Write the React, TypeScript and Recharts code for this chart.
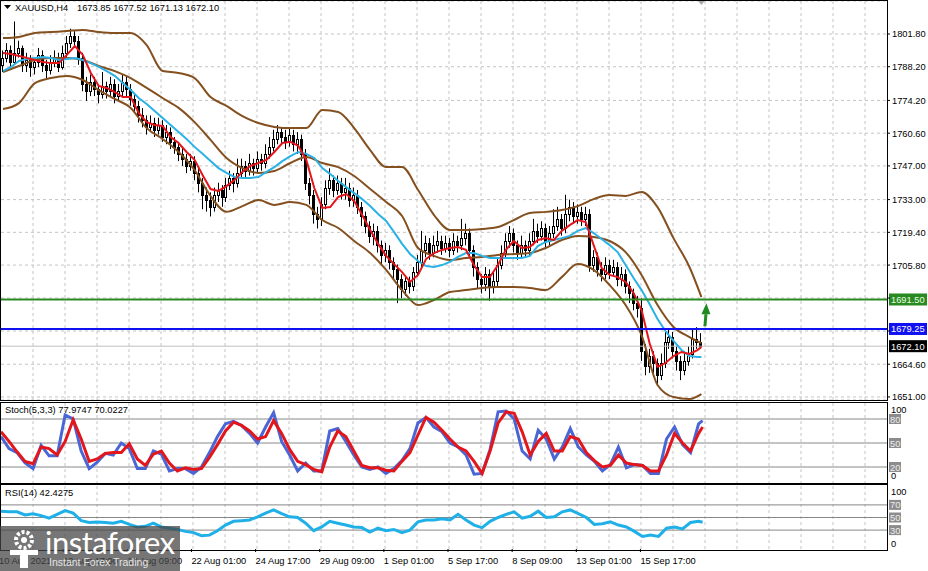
import React from "react";
import {
  Bar,
  CartesianGrid,
  ComposedChart,
  Line,
  ReferenceDot,
  ReferenceLine,
  XAxis,
  YAxis,
} from "recharts";

/* ---------- candles (H4), open = previous close ---------- */
const FIRST_OPEN = 1789;

const CLOSE = [
  1792, 1795, 1790, 1794, 1796, 1789, 1791, 1788, 1790, 1793,
  1789, 1787, 1790, 1792, 1788, 1794, 1798, 1801, 1799, 1792,
  1781, 1778, 1782, 1779, 1777, 1780, 1778, 1781, 1776, 1778,
  1782, 1779, 1775, 1772, 1768, 1766, 1763, 1765, 1762, 1764,
  1759, 1761, 1757, 1755, 1752, 1750, 1747, 1749, 1744, 1740,
  1735, 1733, 1730, 1735, 1737, 1734, 1739, 1742, 1740, 1744,
  1747, 1745, 1748, 1746, 1750, 1748, 1752, 1755, 1758, 1761,
  1759, 1757, 1760, 1756, 1758, 1752, 1740, 1735, 1727, 1725,
  1731, 1738, 1741, 1737, 1740, 1736, 1738, 1733, 1735, 1730,
  1726, 1722, 1718, 1720, 1714, 1710, 1712, 1707, 1704, 1700,
  1696, 1699, 1697, 1703, 1707, 1712, 1715, 1711, 1714, 1716,
  1713, 1715, 1712, 1716, 1714, 1717, 1719, 1712, 1705, 1700,
  1698, 1702, 1697, 1699, 1706, 1711, 1716, 1719, 1714, 1711,
  1714, 1712, 1716, 1720, 1718, 1721, 1716, 1719, 1722, 1725,
  1721, 1727, 1730, 1726, 1728, 1725, 1727, 1706, 1709, 1704,
  1702, 1706, 1703, 1705, 1700, 1702, 1697, 1694, 1690, 1688,
  1670, 1664, 1668, 1665, 1660, 1665, 1674, 1676, 1670, 1666,
  1662, 1666, 1669, 1675, 1673.85, 1672.1,
];

const HIGH = [
  1795, 1798, 1797, 1807, 1799, 1797, 1794, 1793, 1792, 1796,
  1795, 1791, 1793, 1795, 1794, 1797, 1801, 1804, 1803, 1801,
  1794, 1784, 1785, 1784, 1781, 1786, 1782, 1784, 1783, 1781,
  1785, 1784, 1781, 1777, 1774, 1771, 1768, 1768, 1767, 1767,
  1766, 1764, 1763, 1759, 1757, 1755, 1752, 1752, 1751, 1746,
  1742, 1738, 1736, 1738, 1740, 1739, 1742, 1745, 1744, 1750,
  1750, 1749, 1752, 1750, 1753, 1752, 1756, 1759, 1762, 1764,
  1763, 1762, 1763, 1762, 1761, 1760, 1754, 1742, 1737, 1730,
  1734, 1741, 1746, 1743, 1743, 1742, 1742, 1740, 1738, 1737,
  1732, 1728, 1724, 1723, 1722, 1716, 1715, 1714, 1709, 1706,
  1702, 1701, 1701, 1705, 1710, 1720, 1718, 1717, 1718, 1720,
  1718, 1718, 1717, 1719, 1718, 1725, 1723, 1721, 1714, 1707,
  1702, 1705, 1704, 1703, 1709, 1714, 1719, 1722, 1721, 1716,
  1718, 1716, 1719, 1725, 1723, 1724, 1723, 1722, 1729, 1730,
  1727, 1735, 1733, 1732, 1731, 1730, 1730, 1729, 1712, 1711,
  1707, 1709, 1708, 1708, 1707, 1705, 1704, 1699, 1696, 1693,
  1692, 1673, 1671, 1670, 1667, 1669, 1679, 1679, 1678, 1672,
  1668, 1670, 1672, 1679, 1680, 1677.52,
];

const LOW = [
  1786, 1790, 1787, 1789, 1792, 1786, 1786, 1784, 1785, 1788,
  1786, 1783, 1785, 1788, 1786, 1787, 1792, 1796, 1796, 1789,
  1778, 1774, 1776, 1776, 1773, 1775, 1775, 1776, 1773, 1774,
  1776, 1776, 1772, 1769, 1765, 1763, 1760, 1761, 1759, 1760,
  1757, 1756, 1754, 1752, 1749, 1747, 1744, 1745, 1741, 1736,
  1729, 1728, 1726, 1728, 1732, 1730, 1732, 1737, 1736, 1738,
  1742, 1742, 1743, 1743, 1744, 1745, 1746, 1750, 1753, 1756,
  1756, 1754, 1755, 1753, 1752, 1749, 1737, 1731, 1723, 1721,
  1722, 1729, 1735, 1734, 1735, 1733, 1733, 1730, 1730, 1727,
  1722, 1719, 1715, 1714, 1711, 1706, 1707, 1704, 1700, 1690,
  1692, 1693, 1694, 1695, 1701, 1705, 1709, 1708, 1709, 1711,
  1710, 1711, 1709, 1710, 1711, 1712, 1714, 1709, 1701, 1696,
  1694, 1695, 1691, 1694, 1697, 1704, 1709, 1713, 1711, 1708,
  1709, 1709, 1710, 1714, 1715, 1716, 1713, 1714, 1717, 1720,
  1718, 1719, 1724, 1723, 1723, 1722, 1722, 1703, 1703, 1701,
  1699, 1700, 1700, 1701, 1697, 1697, 1694, 1690, 1687, 1684,
  1666, 1660, 1661, 1661, 1656, 1658, 1663, 1671, 1667, 1662,
  1658, 1660, 1664, 1667, 1671, 1671.13,
];

/* ---------- price overlays, read every 2 bars (last = last bar) ---------- */
const RED_MA = [
  1793.9, 1793.5, 1792.7, 1791.8, 1791.0, 1790.2, 1789.7, 1789.7, 1793.1, 1796.8,
  1793.1, 1785.6, 1780.2, 1779.4, 1777.7, 1775.6, 1775.6, 1769.0, 1765.2, 1764.0,
  1763.6, 1759.0, 1756.5, 1752.8, 1749.5, 1743.2, 1737.4, 1736.6, 1738.6, 1741.1,
  1744.5, 1747.0, 1748.2, 1749.5, 1752.8, 1756.5, 1757.0, 1755.3, 1749.5, 1737.8,
  1729.5, 1729.9, 1734.1, 1735.3, 1732.4, 1726.6, 1720.4, 1714.6, 1709.6, 1706.2,
  1702.9, 1698.8, 1701.7, 1708.3, 1710.8, 1712.1, 1712.9, 1713.3, 1712.1, 1705.8,
  1700.8, 1700.8, 1705.8, 1712.1, 1715.8, 1712.9, 1713.3, 1716.2, 1717.0, 1716.2,
  1720.0, 1722.4, 1724.5, 1723.7, 1714.1, 1704.6, 1701.7, 1700.8, 1698.8, 1694.2,
  1687.1, 1673.4, 1663.5, 1665.1, 1668.0, 1669.7, 1668.9, 1670.5, 1671.8,
];

const CYAN_MA = [
  1786.4, 1788.1, 1790.6, 1791.4, 1791.8, 1792.2, 1791.8, 1791.0, 1791.4, 1791.8,
  1791.0, 1789.7, 1788.1, 1786.4, 1784.4, 1781.4, 1778.5, 1775.2, 1772.7, 1769.8,
  1766.9, 1764.0, 1761.1, 1758.2, 1754.9, 1752.0, 1749.0, 1746.1, 1744.1, 1742.4,
  1742.0, 1742.0, 1742.4, 1744.5, 1746.5, 1749.0, 1751.1, 1752.8, 1752.0, 1750.3,
  1746.1, 1743.6, 1740.7, 1738.2, 1735.7, 1733.2, 1730.3, 1727.0, 1724.1, 1719.5,
  1714.6, 1710.4, 1707.5, 1705.4, 1705.0, 1705.8, 1707.1, 1709.2, 1710.8, 1710.8,
  1709.6, 1708.7, 1708.7, 1708.7, 1708.7, 1708.7, 1709.6, 1713.7, 1715.4, 1716.2,
  1717.0, 1717.9, 1720.0, 1721.2, 1719.1, 1716.6, 1714.1, 1711.2, 1705.8, 1700.4,
  1695.4, 1689.6, 1683.4, 1678.4, 1674.3, 1670.5, 1668.0, 1667.6, 1667.6,
];

/* ---------- bollinger bands, read every 4 bars (last = last bar) ---------- */
const BB_UPPER = [
  1800.1, 1800.6, 1802.2, 1802.6, 1803.0, 1803.5, 1802.6, 1802.2, 1802.2, 1797.2,
  1786.4, 1785.6, 1783.5, 1775.6, 1771.9, 1767.7, 1764.8, 1763.2, 1762.7, 1762.7,
  1770.2, 1769.4, 1762.7, 1753.6, 1746.5, 1746.5, 1737.0, 1726.6, 1720.4, 1720.4,
  1720.8, 1721.6, 1724.5, 1727.4, 1727.9, 1728.7, 1730.3, 1733.2, 1734.9, 1734.5,
  1736.2, 1729.9, 1717.0, 1705.0, 1692.5,
];

const BB_MID = [
  1786.0, 1788.5, 1791.0, 1791.8, 1791.8, 1791.0, 1788.5, 1786.4, 1783.5, 1779.4,
  1775.2, 1771.1, 1765.2, 1757.8, 1750.3, 1746.1, 1744.1, 1744.9, 1748.2, 1750.7,
  1748.2, 1746.5, 1742.8, 1737.4, 1732.0, 1726.2, 1712.9, 1709.6, 1707.9, 1708.7,
  1709.2, 1710.0, 1710.4, 1710.8, 1712.9, 1716.2, 1717.9, 1717.5, 1715.8, 1711.2,
  1701.7, 1689.2, 1680.1, 1675.9, 1673.4,
];

const BB_LOWER = [
  1770.6, 1773.1, 1781.4, 1783.5, 1784.4, 1782.7, 1778.5, 1774.8, 1771.1, 1762.7,
  1758.2, 1752.8, 1745.3, 1734.5, 1727.9, 1730.3, 1732.8, 1730.8, 1732.0, 1730.8,
  1724.5, 1721.2, 1715.8, 1710.8, 1703.8, 1695.4, 1689.2, 1691.3, 1694.6, 1695.4,
  1696.3, 1696.7, 1696.7, 1696.3, 1695.4, 1700.8, 1706.2, 1703.8, 1697.5, 1689.2,
  1676.7, 1656.0, 1651.0, 1650.2, 1652.2,
];

/* ---------- oscillators, read every 2 bars ---------- */
const STOCH_K = [
  58, 43, 38, 25, 18, 47, 34, 34, 85, 80,
  40, 18, 26, 37, 35, 50, 43, 18, 18, 40,
  36, 15, 18, 18, 12, 20, 38, 58, 74, 77,
  72, 62, 50, 70, 88, 52, 35, 15, 25, 15,
  15, 65, 68, 52, 35, 20, 17, 20, 12, 18,
  28, 43, 75, 82, 70, 64, 50, 45, 35, 11,
  12, 42, 89, 90, 80, 40, 30, 66, 55, 30,
  45, 68, 45, 35, 27, 15, 23, 45, 19, 23,
  22, 12, 12, 55, 70, 48, 38, 74, 77.97,
];

const STOCH_D = [
  64, 52, 39, 27, 24, 45, 43, 35, 52, 79,
  55, 27, 30, 37, 38, 38, 49, 30, 22, 36,
  40, 25, 15, 19, 17, 18, 32, 48, 65, 76,
  72, 65, 55, 58, 78, 62, 42, 27, 23, 17,
  14, 45, 65, 58, 40, 22, 19, 19, 16, 15,
  27, 38, 60, 82, 76, 66, 55, 45, 40, 27,
  12, 40, 75, 89, 87, 64, 35, 52, 62, 40,
  40, 58, 55, 38, 28, 20, 22, 35, 25, 23,
  22, 15, 15, 35, 62, 50, 40, 62, 70.02,
];

const RSI = [
  60, 59, 59, 54, 56, 53, 49, 55, 61, 57,
  45, 42, 43, 42, 41, 44, 39, 35, 36, 41,
  35, 33, 31, 28, 26, 21, 22, 29, 38, 44,
  45, 46, 51, 57, 62, 56, 51, 50, 41, 29,
  35, 44, 41, 38, 35, 34, 27, 33, 29, 31,
  26, 30, 43, 46, 46, 48, 46, 55, 46, 38,
  34, 44, 50, 55, 59, 49, 52, 60, 50, 51,
  59, 62, 56, 50, 39, 40, 43, 38, 35, 28,
  20, 22, 20, 33, 35, 32, 42, 44, 42.43,
];

const TIME_LABELS = [
  "10 Aug 2021", "12 Aug 17:00", "17 Aug 09:00", "22 Aug 01:00", "24 Aug 17:00",
  "29 Aug 09:00", "1 Sep 01:00", "5 Sep 17:00", "8 Sep 09:00", "13 Sep 01:00", "15 Sep 17:00",
];
const BARS_PER_LABEL = 16;

const PRICE_TICKS = [1651.0, 1664.6, 1678.4, 1692.1, 1705.8, 1719.4, 1733.0, 1747.0, 1760.6, 1774.2, 1788.2, 1801.8];
const PRICE_DOMAIN = [1649.74, 1815.51];
const RESISTANCE = 1691.5;
const SUPPORT = 1679.25;
const BID = 1672.1;
const STOCH_LEVELS = [20, 50, 80];
const RSI_LEVELS = [30, 50, 70];

/* ---------- layout ---------- */
const SLOTS = 222; // bars + empty space on the right
const PLOT_RIGHT = 887;
const VGRID = Array.from({ length: 27 }, (_, k) => 33 + 32 * k);
const FONT = '"Liberation Sans", Arial, sans-serif';
const FS = 9.3;

const BAR_COUNT = CLOSE.length;

function pick(arr: number[], step: number, i: number) {
  if (i === BAR_COUNT - 1) return arr[arr.length - 1];
  if (i % step !== 0) return null;
  const k = i / step;
  return k < arr.length - 1 ? arr[k] : null;
}

const rows = Array.from({ length: SLOTS }, (_, i) => {
  if (i >= BAR_COUNT) return { i };
  return {
    i,
    open: i === 0 ? FIRST_OPEN : CLOSE[i - 1],
    close: CLOSE[i],
    high: HIGH[i],
    low: LOW[i],
    range: [LOW[i], HIGH[i]],
    red: pick(RED_MA, 2, i),
    cyan: pick(CYAN_MA, 2, i),
    up: pick(BB_UPPER, 4, i),
    mid: pick(BB_MID, 4, i),
    lo: pick(BB_LOWER, 4, i),
    k: pick(STOCH_K, 2, i),
    d: pick(STOCH_D, 2, i),
    rsi: pick(RSI, 2, i),
  };
});

function Candle(props: any) {
  const { x, y, width, height, payload } = props;
  if (!payload || payload.high == null || !isFinite(y)) return null;
  const top = Math.min(y, y + height);
  const span = Math.abs(height);
  const { open, close, high, low } = payload;
  const toY = (v: number) => top + ((high - v) / (high - low)) * span;
  const cx = Math.floor(x + width / 2) + 0.5;
  const bTop = Math.round(toY(Math.max(open, close))) + 0.5;
  const bBot = Math.round(toY(Math.min(open, close))) + 0.5;
  const bull = close >= open;
  return (
    <g>
      <line x1={cx} x2={cx} y1={top} y2={top + span} stroke="#000" strokeWidth={1} />
      {bBot - bTop < 1 ? (
        <line x1={cx - 1.5} x2={cx + 1.5} y1={bTop} y2={bTop} stroke="#000" />
      ) : (
        <rect x={cx - 1} y={bTop} width={2} height={bBot - bTop} fill={bull ? "#fff" : "#000"} stroke="#000" strokeWidth={1} />
      )}
    </g>
  );
}

const marked = [RESISTANCE, SUPPORT, BID];

function PriceTick(props: any) {
  const { y, payload } = props;
  const v = payload.value;
  const hidden = marked.some((m) => Math.abs(m - v) < 3);
  return (
    <g>
      <line x1={PLOT_RIGHT} x2={PLOT_RIGHT + 3} y1={y} y2={y} stroke="#000" />
      {!hidden && (
        <text x={PLOT_RIGHT + 5} y={y + 3.5} fontSize={FS} fontFamily={FONT} fill="#000">
          {v.toFixed(2)}
        </text>
      )}
    </g>
  );
}

const priceTag = (value: number, bg: string, fg: string) => (props: any) => {
  const vb = props.viewBox;
  const x = vb.x + vb.width + 2;
  const y = vb.y;
  return (
    <g>
      <rect x={x} y={y - 6} width={38} height={12} fill={bg} />
      <text x={x + 2} y={y + 3.5} fontSize={FS} fontFamily={FONT} fill={fg}>
        {value.toFixed(2)}
      </text>
    </g>
  );
};

const levelTick = (levels: number[], topShift: number, bottomShift: number) => (props: any) => {
  const { y, payload } = props;
  const v = payload.value;
  if (levels.includes(v)) {
    return (
      <g>
        <rect x={PLOT_RIGHT + 2} y={y - 5} width={12} height={10} fill="#8c8c8c" />
        <text x={PLOT_RIGHT + 3} y={y + 3.5} fontSize={FS} fontFamily={FONT} fill="#eeeeee">
          {v}
        </text>
      </g>
    );
  }
  const dy = v === 100 ? topShift : bottomShift;
  return (
    <text x={PLOT_RIGHT + 4} y={y + dy + 3.5} fontSize={FS} fontFamily={FONT} fill="#000">
      {v}
    </text>
  );
};

function TimeTick(props: any) {
  const { x, payload } = props;
  const label = TIME_LABELS[payload.value / BARS_PER_LABEL];
  return (
    <g>
      <line x1={x - 2} x2={x - 2} y1={65} y2={68} stroke="#000" />
      <text x={x - 2} y={80} fontSize={FS} fontFamily={FONT} fill="#000">
        {label}
      </text>
    </g>
  );
}

function UpArrow(props: any) {
  const { cx, cy } = props;
  return (
    <g fill="#1f8a1f">
      <polygon points={`${cx + 1},${cy - 12} ${cx - 4},${cy - 1} ${cx + 5},${cy - 1}`} />
      <polygon points={`${cx - 1},${cy - 1} ${cx + 2},${cy - 1} ${cx + 1},${cy + 11} ${cx - 2},${cy + 11}`} />
    </g>
  );
}

function ShiftMark(props: any) {
  const { cx } = props;
  return <polygon points={`${cx - 4},0 ${cx + 4},0 ${cx},5`} fill="#a8a8a8" />;
}

const border = (top: number, height: number): React.CSSProperties => ({
  position: "absolute",
  left: 0,
  top,
  width: PLOT_RIGHT + 1,
  height,
  border: "1px solid #000",
  boxSizing: "border-box",
  pointerEvents: "none",
});

const label = (left: number, top: number): React.CSSProperties => ({
  position: "absolute",
  left,
  top,
  fontSize: FS,
  lineHeight: "11px",
  color: "#000",
  whiteSpace: "nowrap",
});

export default function App() {
  return (
    <div
      style={{
        position: "fixed",
        left: 0,
        top: 0,
        width: 928,
        height: 571,
        background: "#fff",
        overflow: "hidden",
        fontFamily: FONT,
      }}
    >
      {/* PRICE */}
      <div style={{ position: "absolute", left: 0, top: 0 }}>
        <ComposedChart width={928} height={401} data={rows} margin={{ top: 1, right: 0, bottom: 1, left: 1 }}>
          <CartesianGrid stroke="#c4c4c4" strokeDasharray="3 3" verticalPoints={VGRID} />
          <XAxis dataKey="i" hide />
          <YAxis
            orientation="right"
            width={41}
            domain={PRICE_DOMAIN}
            ticks={PRICE_TICKS}
            interval={0}
            allowDataOverflow
            axisLine={false}
            tickLine={false}
            tick={<PriceTick />}
          />
          <ReferenceLine y={BID} stroke="#c0c0c0" strokeWidth={1} label={priceTag(BID, "#000", "#fff")} />
          <Bar dataKey="range" barSize={3} shape={(p: any) => <Candle {...p} />} isAnimationActive={false} />
          <Line dataKey="up" type="monotone" stroke="#85501f" strokeWidth={2} dot={false} connectNulls isAnimationActive={false} />
          <Line dataKey="mid" type="monotone" stroke="#85501f" strokeWidth={2} dot={false} connectNulls isAnimationActive={false} />
          <Line dataKey="lo" type="monotone" stroke="#85501f" strokeWidth={2} dot={false} connectNulls isAnimationActive={false} />
          <Line dataKey="cyan" type="linear" stroke="#2ab2e6" strokeWidth={2} dot={false} connectNulls isAnimationActive={false} />
          <Line dataKey="red" type="linear" stroke="#e3161c" strokeWidth={2} dot={false} connectNulls isAnimationActive={false} />
          <ReferenceLine y={RESISTANCE} stroke="#2a8a22" strokeWidth={2} label={priceTag(RESISTANCE, "#2a8a22", "#e8ffe0")} />
          <ReferenceLine y={SUPPORT} stroke="#1010f0" strokeWidth={2} label={priceTag(SUPPORT, "#1010f0", "#ffffff")} />
          <ReferenceDot x={176} y={1685} ifOverflow="visible" shape={(p: any) => <UpArrow {...p} />} />
          <ReferenceDot x={175} y={PRICE_DOMAIN[1]} ifOverflow="visible" shape={(p: any) => <ShiftMark {...p} />} />
        </ComposedChart>
      </div>
      <div style={border(0, 401)} />
      <svg width={8} height={6} style={{ position: "absolute", left: 4, top: 5 }}>
        <polygon points="0,0 7,0 3.5,4" fill="#000" />
      </svg>
      <div style={label(15, 3)}>XAUUSD,H4</div>
      <div style={label(77, 3)}>1673.85 1677.52 1671.13 1672.10</div>

      {/* STOCHASTIC */}
      <div style={{ position: "absolute", left: 0, top: 402 }}>
        <ComposedChart width={928} height={82} data={rows} margin={{ top: 1, right: 0, bottom: 1, left: 1 }}>
          <CartesianGrid stroke="#c4c4c4" strokeDasharray="3 3" horizontal={false} verticalPoints={VGRID} />
          <XAxis dataKey="i" hide />
          <YAxis
            orientation="right"
            width={41}
            domain={[0, 100]}
            ticks={[0, 20, 50, 80, 100]}
            interval={0}
            axisLine={false}
            tickLine={false}
            tick={levelTick(STOCH_LEVELS, 6, -8)}
          />
          {STOCH_LEVELS.map((v) => (
            <ReferenceLine key={v} y={v} stroke="#888" strokeWidth={1} />
          ))}
          <Line dataKey="k" type="linear" stroke="#4a66d4" strokeWidth={3} dot={false} connectNulls isAnimationActive={false} />
          <Line dataKey="d" type="linear" stroke="#e3161c" strokeWidth={3} dot={false} connectNulls isAnimationActive={false} />
        </ComposedChart>
      </div>
      <div style={border(402, 82)} />
      <div style={label(5, 405)}>Stoch(5,3,3) 77.9747 70.0227</div>

      {/* RSI */}
      <div style={{ position: "absolute", left: 0, top: 484 }}>
        <ComposedChart width={928} height={87} data={rows} margin={{ top: 2, right: 0, bottom: 0, left: 1 }}>
          <CartesianGrid stroke="#c4c4c4" strokeDasharray="3 3" horizontal={false} verticalPoints={VGRID} />
          <XAxis
            dataKey="i"
            height={22}
            ticks={TIME_LABELS.map((_, k) => k * BARS_PER_LABEL)}
            interval={0}
            axisLine={false}
            tickLine={false}
            tick={<TimeTick />}
          />
          <YAxis
            orientation="right"
            width={41}
            domain={[0, 100]}
            ticks={[0, 30, 50, 70, 100]}
            interval={0}
            axisLine={false}
            tickLine={false}
            tick={levelTick(RSI_LEVELS, 5.5, -6)}
          />
          {RSI_LEVELS.map((v) => (
            <ReferenceLine key={v} y={v} stroke="#888" strokeWidth={1} />
          ))}
          <Line dataKey="rsi" type="linear" stroke="#1fb0e8" strokeWidth={3} dot={false} connectNulls isAnimationActive={false} />
        </ComposedChart>
      </div>
      <div style={border(484, 67)} />
      <div style={label(5, 488)}>RSI(14) 42.4275</div>

      {/* WATERMARK */}
      <div
        style={{
          position: "absolute",
          left: 0,
          top: 526,
          width: 180,
          height: 45,
          background: "rgba(70,70,70,0.74)",
        }}
      >
        <svg width={38} height={42} style={{ position: "absolute", left: 5, top: 2 }}>
          <circle cx={19} cy={12} r={8} fill="none" stroke="#fff" strokeWidth={4} strokeDasharray="3 2" />
          <circle cx={19} cy={12} r={3} fill="#fff" />
          <rect x={5} y={22} width={28} height={5} fill="#fff" />
          <rect x={15} y={22} width={8} height={18} fill="#fff" />
        </svg>
        <div
          style={{
            position: "absolute",
            left: 45,
            top: -3,
            fontSize: 31,
            fontFamily: "Lato, sans-serif",
            color: "#fff",
            letterSpacing: -0.5,
            whiteSpace: "nowrap",
          }}
        >
          instaforex
        </div>
        <div
          style={{
            position: "absolute",
            left: 49,
            top: 30,
            fontSize: 10.5,
            color: "#e4e4e4",
            whiteSpace: "nowrap",
          }}
        >
          Instant Forex Trading
        </div>
      </div>
    </div>
  );
}
